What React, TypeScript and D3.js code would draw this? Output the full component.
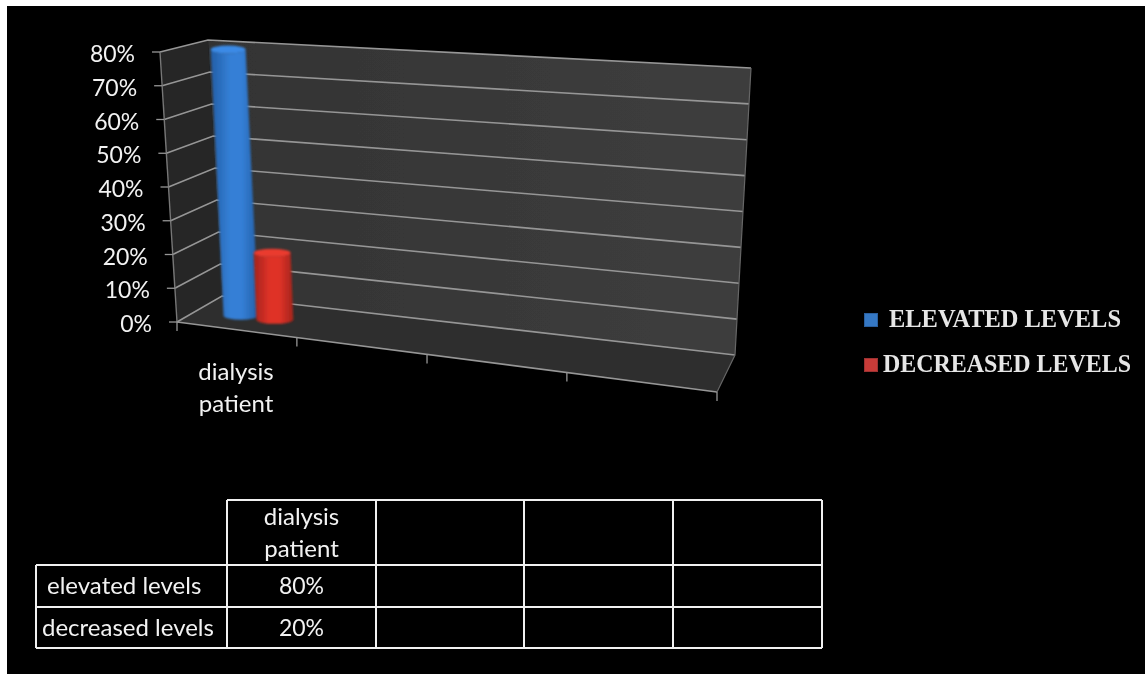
import React from "react";
import * as d3 from "d3";

const categories = ["dialysis patient", "", "", ""];
const categoryLines = [["dialysis", "patient"], [], [], []];
const seriesNames = ["elevated levels", "decreased levels"];
const legendNames = ["ELEVATED LEVELS", "DECREASED LEVELS"];
const seriesValues = [[0.8], [0.2]];
const yTicks = [0, 0.1, 0.2, 0.3, 0.4, 0.5, 0.6, 0.7, 0.8];
const tableRowLabels = ["elevated levels", "decreased levels"];
const tableRowValues = ["80%", "20%"];

const W = 1145, H = 674;
const FONT = "Lato, 'Open Sans', sans-serif";
const pct = d3.format(".0%");

// perspective box: interpolate along width (u), depth (d) and height (v)
type P = [number, number];
const fb: [P, P] = [[177, 322], [717, 392]]; // floor front edge
const bb: [P, P] = [[222, 296], [735, 355]]; // floor back edge
const ft: [P, P] = [[160, 52], [735, 92]];   // top front edge
const bt: [P, P] = [[208, 40], [751, 68]];   // top back edge
const yS = d3.scaleLinear().domain([0, 0.8]).range([0, 1]);
const mix = (a: P, b: P, t: number): P => [a[0] + (b[0] - a[0]) * t, a[1] + (b[1] - a[1]) * t];
const project = (u: number, d: number, val: number): P => {
  const bot = mix(mix(fb[0], fb[1], u), mix(bb[0], bb[1], u), d);
  const top = mix(mix(ft[0], ft[1], u), mix(bt[0], bt[1], u), d);
  return mix(bot, top, yS(val));
};
const poly = (pts: P[]) => d3.line()(pts) + "Z";

// category ticks along the front edge, foreshortened
const xTickX = d3.scaleLinear().domain([0, 1, 2, 3, 4]).range([0, 0.222, 0.463, 0.722, 1]);
const barU = d3.scaleOrdinal<number, number>().domain([0, 1]).range([0.083, 0.147]);
const barDepth = 0.45;
const barRadius = [17.5, 18.5];
const capRy = 4;
const barColors = [
  { edge: "#235ea6", mid: "#347fd6", cap: "#3a8ae6", sw: "#3478c4", swEdge: "#2a5f9e" },
  { edge: "#a3241c", mid: "#df3228", cap: "#ea3a2e", sw: "#c83a38", swEdge: "#9c3030" },
];

// data table
const colX = [36, 227, 376, 524, 673, 822];
const rowY = [500, 565, 607, 648];
const rowLabelX = [47, 42];

const bandPath = (val: number, i: number) => {
  const b = project(barU(i), barDepth, 0);
  const t = project(barU(i), barDepth, val);
  const r = barRadius[i];
  return `M${t[0] - r},${t[1]} L${b[0] - r},${b[1]} A${r},${capRy} 0 0 0 ${b[0] + r},${b[1]} L${t[0] + r},${t[1]} A${r},${capRy} 0 0 1 ${t[0] - r},${t[1]}Z`;
};

export default function App() {
  const gridColor = "#969696";
  return (
    <svg width={W} height={H} viewBox={`0 0 ${W} ${H}`}
      style={{ position: "fixed", left: 0, top: 0, display: "block", background: "#fff" }}>
      <defs>
        {barColors.map((c, i) => (
          <linearGradient key={i} id={`bar${i}`} x1="0" x2="1" y1="0" y2="0">
            <stop offset="0" stopColor={c.edge} />
            <stop offset="0.4" stopColor={c.mid} />
            <stop offset="0.65" stopColor={c.mid} />
            <stop offset="1" stopColor={c.edge} />
          </linearGradient>
        ))}
        <linearGradient id="wall" x1="0" x2="1" y1="0" y2="0">
          <stop offset="0" stopColor="#333333" />
          <stop offset="1" stopColor="#3e3e3e" />
        </linearGradient>
        <filter id="soft" x="-10%" y="-10%" width="120%" height="120%"><feGaussianBlur stdDeviation="0.6" /></filter>
        <filter id="softer" x="-30%" y="-10%" width="160%" height="120%"><feGaussianBlur stdDeviation="1.2" /></filter>
        <filter id="txt" x="-5%" y="-20%" width="110%" height="140%"><feGaussianBlur stdDeviation="0.25" /></filter>
      </defs>
      <rect x={7} y={6} width={W - 7} height={H - 6} fill="#000" />

      <g filter="url(#soft)">
        {/* walls and floor */}
        <path d={poly([project(0, 0, 0), project(0, 1, 0), project(0, 1, 0.8), project(0, 0, 0.8)])} fill="#262626" />
        <path d={poly([project(0, 1, 0), project(1, 1, 0), project(1, 1, 0.8), project(0, 1, 0.8)])} fill="url(#wall)" />
        <path d={poly([project(0, 0, 0), project(1, 0, 0), project(1, 1, 0), project(0, 1, 0)])} fill="#2d2d2d" />

        {/* gridlines */}
        {yTicks.map(v => (
          <path key={v} fill="none" stroke={gridColor} strokeWidth={1.6}
            d={d3.line()([project(0, 0, v), project(0, 1, v), project(1, 1, v)])!} />
        ))}
        {/* axes */}
        <path fill="none" stroke="#777" strokeWidth={1.4} d={d3.line()([project(0, 0, 0), project(0, 0, 0.8)])!} />
        <path fill="none" stroke={gridColor} strokeWidth={1.6} d={d3.line()([project(0, 0, 0), project(1, 0, 0)])!} />
        <path fill="none" stroke="#666" strokeWidth={1.2} d={d3.line()([project(1, 0, 0), project(1, 1, 0), project(1, 1, 0.8)])!} />
        {yTicks.map(v => {
          const p = project(0, 0, v);
          return <line key={v} x1={p[0] - 8} x2={p[0]} y1={p[1]} y2={p[1]} stroke={gridColor} strokeWidth={1.3} />;
        })}
        {xTickX.domain().map(k => {
          const p = project(xTickX(k), 0, 0);
          return <line key={k} x1={p[0]} x2={p[0]} y1={p[1]} y2={p[1] + 9} stroke={gridColor} strokeWidth={1.3} />;
        })}
      </g>

      {/* cylinders */}
      {seriesValues.map((vals, i) =>
        vals.map((v, j) => {
          const t = project(barU(i), barDepth, v);
          return (
            <g key={`${i}-${j}`} filter="url(#softer)">
              <path d={bandPath(v, i)} fill={`url(#bar${i})`} />
              <ellipse cx={t[0]} cy={t[1]} rx={barRadius[i]} ry={capRy} fill={barColors[i].cap} />
            </g>
          );
        })
      )}

      {/* value axis labels */}
      <g filter="url(#txt)" fontFamily={FONT} fontSize={23} fill="#f2f2f2">
        {yTicks.map(v => {
          const p = project(0, 0, v);
          return <text key={v} x={p[0] - 25} y={p[1] + 2} dy="0.35em" textAnchor="end">{pct(v)}</text>;
        })}
      </g>
      <g filter="url(#txt)" fontFamily={FONT} fontSize={24} fill="#f2f2f2">
        {categoryLines.map((lines, i) => lines.map((line, k) => {
          const p = project(xTickX(i), 0, 0);
          const cx = p[0] + 59;
          return <text key={`${i}${k}`} x={cx} y={372 + k * 32} dy="0.35em" textAnchor="middle">{line}</text>;
        }))}
      </g>

      {/* legend */}
      {legendNames.map((name, i) => {
        const y = 320 + i * 45;
        return (
          <g key={name}>
            <rect x={864.5} y={y - 6.5} width={13} height={13} fill={barColors[i].sw} stroke={barColors[i].swEdge} strokeWidth={1} filter="url(#txt)" />
            <text x={i === 0 ? 889 : 883} y={y + 7} textLength={i === 0 ? 232 : 248} lengthAdjust="spacingAndGlyphs"
              fontFamily="'Liberation Serif', serif" fontWeight="bold" fontSize={25} fill="#e6e6e6" filter="url(#txt)">{name}</text>
          </g>
        );
      })}

      {/* data table */}
      <g stroke="#f0f0f0" strokeWidth={2} fill="none">
        <line x1={colX[1]} x2={colX[5]} y1={rowY[0]} y2={rowY[0]} />
        {rowY.slice(1).map(y => <line key={y} x1={colX[0]} x2={colX[5]} y1={y} y2={y} />)}
        <line x1={colX[0]} x2={colX[0]} y1={rowY[1]} y2={rowY[3]} />
        {colX.slice(1).map(x => <line key={x} x1={x} x2={x} y1={rowY[0]} y2={rowY[3]} />)}
      </g>
      <g filter="url(#txt)" fontFamily={FONT} fontSize={24} fill="#f2f2f2" textAnchor="middle">
        {categoryLines.map((lines, i) => lines.map((line, k) => (
          <text key={`${i}${k}`} x={(colX[i + 1] + colX[i + 2]) / 2} y={517 + k * 32} dy="0.35em">{line}</text>
        )))}
        {tableRowLabels.map((label, r) => (
          <g key={label}>
            <text x={rowLabelX[r]} textAnchor="start" y={(rowY[r + 1] + rowY[r + 2]) / 2} dy="0.35em">{label}</text>
            <text x={(colX[1] + colX[2]) / 2} fontSize={23} y={(rowY[r + 1] + rowY[r + 2]) / 2} dy="0.35em">{tableRowValues[r]}</text>
          </g>
        ))}
      </g>
    </svg>
  );
}
